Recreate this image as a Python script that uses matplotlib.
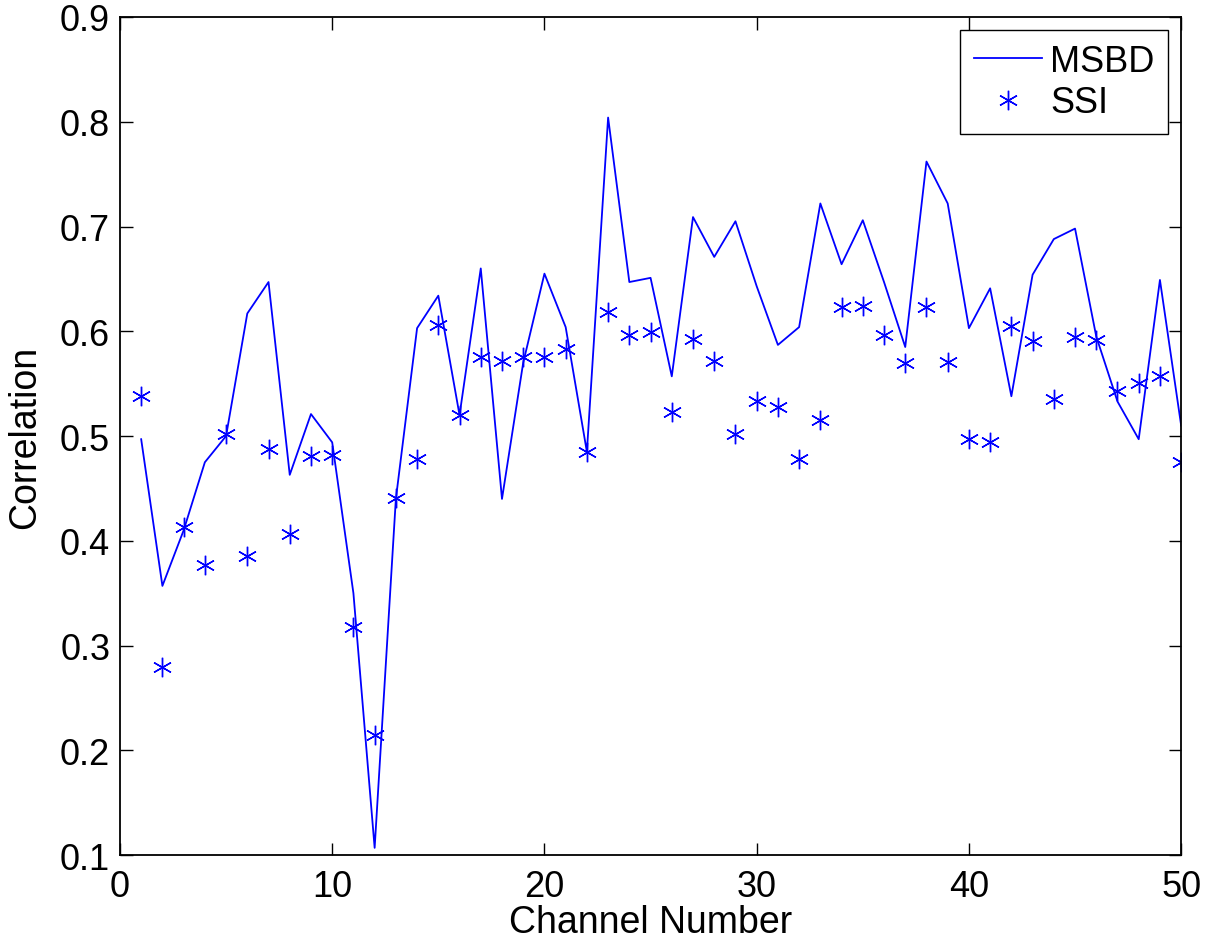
import numpy as np
import matplotlib
matplotlib.use('Agg')
import matplotlib.pyplot as plt

plt.rcParams['font.family'] = ['Liberation Sans', 'DejaVu Sans']

channel = np.arange(1, 51)
msbd = [0.497, 0.357, 0.410, 0.475, 0.500, 0.617, 0.647, 0.463, 0.521, 0.494,
        0.350, 0.107, 0.440, 0.603, 0.634, 0.520, 0.660, 0.440, 0.570, 0.655,
        0.604, 0.485, 0.804, 0.647, 0.651, 0.557, 0.709, 0.671, 0.705, 0.643,
        0.587, 0.604, 0.722, 0.664, 0.706, 0.647, 0.585, 0.762, 0.722, 0.603,
        0.641, 0.538, 0.654, 0.688, 0.698, 0.595, 0.533, 0.497, 0.649, 0.510]
ssi = [0.538, 0.280, 0.413, 0.377, 0.502, 0.386, 0.488, 0.407, 0.481, 0.482,
       0.318, 0.215, 0.441, 0.478, 0.606, 0.520, 0.575, 0.572, 0.575, 0.575,
       0.583, 0.485, 0.618, 0.596, 0.599, 0.523, 0.593, 0.572, 0.502, 0.533,
       0.528, 0.478, 0.515, 0.623, 0.624, 0.596, 0.570, 0.623, 0.571, 0.497,
       0.494, 0.605, 0.591, 0.535, 0.595, 0.592, 0.543, 0.551, 0.557, 0.475]
xticks = [0, 10, 20, 30, 40, 50]
yticks = [0.1, 0.2, 0.3, 0.4, 0.5, 0.6, 0.7, 0.8, 0.9]

fig = plt.figure(figsize=(12.24, 9.45), dpi=100)
ax = fig.add_axes([0.098, 0.094, 0.867, 0.887])
ax.plot(channel, msbd, color='#0000ff', linewidth=1.3, label='MSBD')
# matlab style asterisk: 6-armed star with thin strokes
ax.plot(channel, ssi, linestyle='none', marker=(6, 2, 0), markersize=14,
        color='#0000ff', markeredgewidth=1.0, label='SSI')

ax.set_xlim(0, 50)
ax.set_ylim(0.1, 0.9)
ax.set_xticks(xticks)
ax.set_yticks(yticks)
ax.set_yticklabels(['%.1f' % v for v in yticks])
ax.tick_params(direction='in', top=True, right=True, length=9, width=1,
               labelsize=26)
ax.tick_params(axis='x', pad=10)
ax.tick_params(axis='y', pad=7)
for s in ax.spines.values():
    s.set_linewidth(1.3)
ax.set_xlabel('Channel Number', fontsize=27, labelpad=0)
ax.set_ylabel('Correlation', fontsize=27, labelpad=12)
leg = ax.legend(loc='upper right', fontsize=26, fancybox=False, framealpha=1,
                edgecolor='black', borderaxespad=0.36, handlelength=1.9,
                handletextpad=0.22, borderpad=0.38, labelspacing=0.18)
leg.get_frame().set_linewidth(1.0)

plt.savefig('out.png', dpi=100)
